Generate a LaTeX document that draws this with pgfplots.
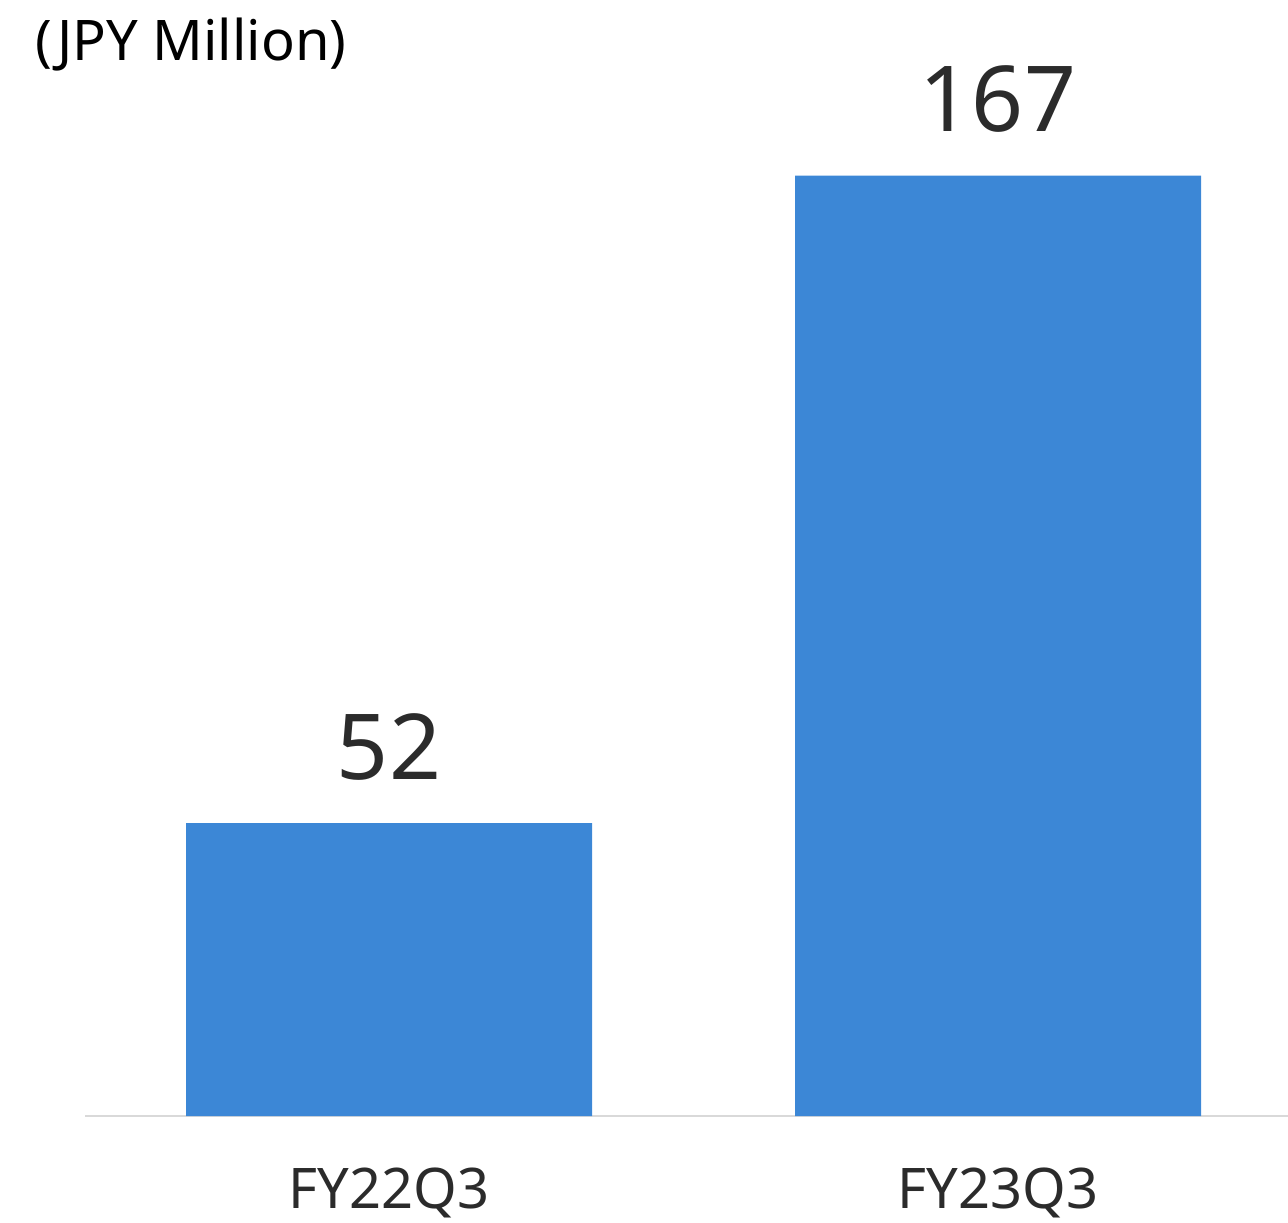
\documentclass[border=0pt]{standalone}
\usepackage{pgfplots}
\pgfplotsset{compat=1.18}
\usepackage{fontspec}
\setmainfont{Noto Sans}
\definecolor{barblue}{HTML}{3C87D6}
\definecolor{txt}{HTML}{2B2B2B}
\definecolor{axgray}{HTML}{D9D9D9}
\begin{document}
\begin{tikzpicture}
\clip (-42.5pt,-53pt) rectangle (601.5pt,558pt);
\begin{axis}[
  at={(0,0)}, anchor=south west,
  scale only axis,
  width=601.5pt, height=558pt,
  xmin=-0.4992, xmax=1.4762,
  ymin=0, ymax=198.2,
  axis x line=bottom, axis y line=none,
  x axis line style={-, draw=axgray, line width=1pt},
  xtick=data,
  xticklabels={FY22Q3,FY23Q3},
  major tick length=0pt,
  xticklabel style={anchor=base, inner sep=0pt, yshift=-46pt, font=\fontsize{28}{34}\selectfont, text=txt},
  ytick=\empty,
  clip=false,
  ybar, bar width=203pt,
  /pgf/number format/assume math mode=true,
  nodes near coords,
  nodes near coords style={anchor=base, yshift=22pt, font=\fontsize{45.5}{54}\selectfont, text=txt},
]
\addplot[fill=barblue, draw=none] coordinates {(0,52) (1,167)};
\end{axis}
\node[anchor=base west, inner sep=0pt, font=\fontsize{28}{34}\selectfont, text=black] at (-25pt,527.5pt) {(JPY Million)};
\end{tikzpicture}
\end{document}
